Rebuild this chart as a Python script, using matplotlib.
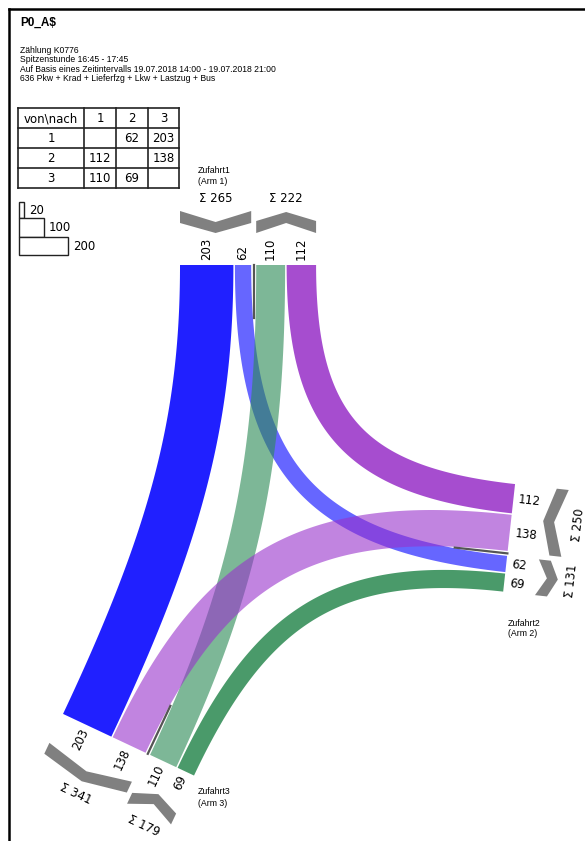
import numpy as np
import matplotlib.pyplot as plt
from matplotlib.patches import Polygon, Rectangle

# Knotenstromdaten (Spitzenstunde)
title = "P0_A$"
header = ["Zählung K0776",
          "Spitzenstunde 16:45 - 17:45",
          "Auf Basis eines Zeitintervalls 19.07.2018 14:00 - 19.07.2018 21:00",
          "636 Pkw + Krad + Lieferfzg + Lkw + Lastzug + Bus"]
von = [1, 1, 2, 2, 3, 3]
nach = [2, 3, 1, 3, 1, 2]
menge = [62, 203, 112, 138, 110, 69]
legend_steps = [20, 100, 200]
arm_names = ["Zufahrt1", "Zufahrt2", "Zufahrt3"]
arm_subs = ["(Arm 1)", "(Arm 2)", "(Arm 3)"]

# Darstellung
S = 0.263          # px pro Fahrzeug
GAP = 1.5          # Abstand zwischen Bändern
MED = 2.5          # halber Mittelstreifen
flow_style = {(1, 3): ('#2020ff', 1.0), (2, 1): ('#a64dcf', 1.0), (3, 2): ('#4a9a6a', 1.0),
              (1, 2): ('#0000ff', 0.6), (3, 1): ('#2e8b57', 0.62), (2, 3): ('#9932cc', 0.6)}
draw_order = [(1, 3), (2, 1), (3, 2), (1, 2), (3, 1), (2, 3)]
arm_end = {1: (253.7, 265.0), 2: (507.4, 553.4), 3: (147.8, 753.8)}
arm_angle = {1: 90.0, 2: -6.3, 3: 244.8}
in_order = {1: [(1, 2), (1, 3)], 2: [(2, 3), (2, 1)], 3: [(3, 1), (3, 2)]}
out_order = {1: [(3, 1), (2, 1)], 2: [(1, 2), (3, 2)], 3: [(2, 3), (1, 3)]}
arm_label_pos = {1: (198, 170), 2: (508, 623), 3: (198, 792)}

value = {(a, b): v for a, b, v in zip(von, nach, menge)}
NUM = ['DejaVu Sans']
TXT = ['Liberation Sans', 'DejaVu Sans']

fig = plt.figure(figsize=(5.85, 8.41), dpi=100)
ax = fig.add_axes([0, 0, 1, 1])
ax.set_xlim(0, 585)
ax.set_ylim(841, 0)
ax.axis('off')


def unit(arm):
    a = np.radians(arm_angle[arm])
    u = np.array([np.cos(a), -np.sin(a)])
    l = np.array([-u[1], u[0]])
    return u, l


def pt(arm, s, d):
    u, l = unit(arm)
    return np.array(arm_end[arm]) + l * s + u * d


def readable(a):
    while a > 90:
        a -= 180
    while a <= -90:
        a += 180
    return a


# seitliche Lage jedes Bandes an jeder Zufahrt
lat = {}
groups = {}
for arm in (1, 2, 3):
    pos = MED
    for f in in_order[arm]:
        w = value[f] * S
        lat[(arm, f)] = -(pos + w / 2)
        pos += w + GAP
    groups[(arm, 'in')] = (-(pos - GAP), -MED)
    pos = MED
    for f in out_order[arm]:
        w = value[f] * S
        lat[(arm, f)] = pos + w / 2
        pos += w + GAP
    groups[(arm, 'out')] = (MED, pos - GAP)


def cross2(a, b):
    return a[0] * b[1] - a[1] * b[0]


def ribbon(f, fac=0.75):
    a, b = f
    ua, _ = unit(a)
    ub, _ = unit(b)
    p0 = pt(a, lat[(a, f)], 0)
    p3 = pt(b, lat[(b, f)], 0)
    d0, d3 = -ua, ub
    r = p3 - p0
    den = cross2(d0, d3)
    t0 = cross2(r, d3) / den
    t3 = cross2(d0, r) / den
    p1 = p0 + d0 * t0 * fac
    p2 = p3 - d3 * t3 * fac
    t = np.linspace(0, 1, 200)[:, None]
    c = (1 - t) ** 3 * p0 + 3 * (1 - t) ** 2 * t * p1 + 3 * (1 - t) * t ** 2 * p2 + t ** 3 * p3
    dv = 3 * (1 - t) ** 2 * (p1 - p0) + 6 * (1 - t) * t * (p2 - p1) + 3 * t ** 2 * (p3 - p2)
    dv = dv / np.linalg.norm(dv, axis=1)[:, None]
    n = np.column_stack([-dv[:, 1], dv[:, 0]])
    w = value[f] * S / 2
    return np.vstack([c + n * w, (c - n * w)[::-1]])


for f in draw_order:
    col, al = flow_style[f]
    ax.add_patch(Polygon(ribbon(f), closed=True, facecolor=col, alpha=al, edgecolor='none', zorder=2))

for arm in (1, 2, 3):
    u, l = unit(arm)
    # Mittelstreifen
    p = pt(arm, 0, 0)
    q = pt(arm, 0, -53)
    ax.plot([p[0], q[0]], [p[1], q[1]], color='#555555', lw=1.6, zorder=3)

    ang = arm_angle[arm]
    rot = readable(ang)
    flip = abs(rot - ang) > 1
    for f in in_order[arm] + out_order[arm]:
        p = pt(arm, lat[(arm, f)], 5)
        ax.text(p[0], p[1], str(value[f]), rotation=rot, rotation_mode='anchor',
                ha='right' if flip else 'left', va='center', fontsize=8.5, family=NUM, zorder=4)

    srot = readable(ang - 90)
    for kind in ('in', 'out'):
        s0, s1 = groups[(arm, kind)]
        sm = (s0 + s1) / 2
        if kind == 'in':
            loc = [(s0, 54), (sm, 43), (s1, 54), (s1, 42), (sm, 32), (s0, 42)]
            total = sum(value[f] for f in in_order[arm])
        else:
            loc = [(s0, 44), (sm, 53), (s1, 44), (s1, 32), (sm, 42), (s0, 32)]
            total = sum(value[f] for f in out_order[arm])
        poly = [pt(arm, s, d) for s, d in loc]
        ax.add_patch(Polygon(poly, closed=True, facecolor='#808080', edgecolor='none', zorder=3))
        p = pt(arm, sm, 67)
        ax.text(p[0], p[1], "Σ " + str(total), rotation=srot, rotation_mode='anchor',
                ha='center', va='center', fontsize=8.5, family=NUM, zorder=4)

    x, y = arm_label_pos[arm]
    ax.text(x, y, arm_names[arm - 1], fontsize=6.3, family=TXT, va='center')
    ax.text(x, y + 11, arm_subs[arm - 1], fontsize=6.3, family=TXT, va='center')

# Kopf
ax.text(20, 23, title, fontsize=8.5, fontweight='bold', family=TXT, va='center')
for i, line in enumerate(header):
    ax.text(20, 50 + i * 9.5, line, fontsize=6.2, family=TXT, va='center')

# Matrix
col_x = [18, 84, 116, 148, 179]
row_y = [108, 128, 148, 168, 188]
for x in col_x:
    ax.plot([x, x], [row_y[0], row_y[-1]], color='#222222', lw=1.2)
for y in row_y:
    ax.plot([col_x[0], col_x[-1]], [y, y], color='#222222', lw=1.2)
cells = [["von\\nach", "1", "2", "3"]]
for a in (1, 2, 3):
    cells.append([str(a)] + [str(value[(a, b)]) if (a, b) in value else "" for b in (1, 2, 3)])
for r, row in enumerate(cells):
    for c, txt in enumerate(row):
        ax.text((col_x[c] + col_x[c + 1]) / 2, (row_y[r] + row_y[r + 1]) / 2 + 0.5, txt,
                ha='center', va='center', fontsize=8.5, family=NUM)

# Maßstab
leg_top = [202, 218, 237]
leg_bot = [218, 237, 255]
for v, y0, y1 in zip(legend_steps, leg_top, leg_bot):
    w = v * 0.245
    ax.add_patch(Rectangle((19, y0), w, y1 - y0, facecolor='white', edgecolor='#222222', lw=1.0))
    ax.text(19 + w + 5, (y0 + y1) / 2, str(v), va='center', fontsize=8.5, family=NUM)

# Rahmen
ax.plot([8.5, 585], [8.5, 8.5], color='black', lw=1.8)
ax.plot([8.5, 8.5], [8.5, 841], color='black', lw=1.8)

fig.savefig('out.png', dpi=100)
